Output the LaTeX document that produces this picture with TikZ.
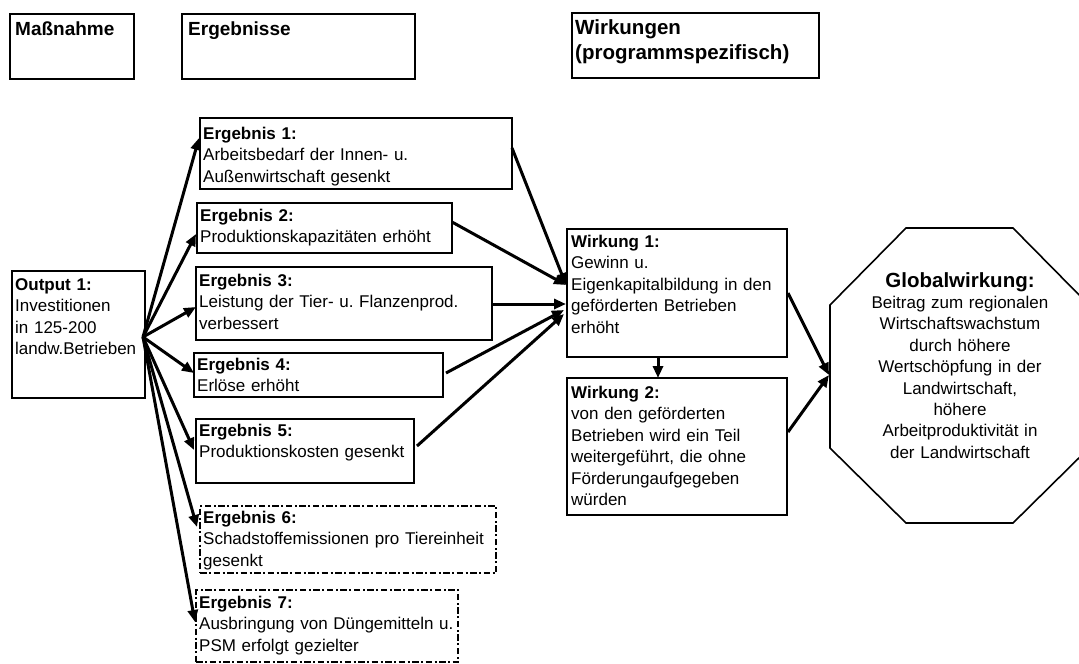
\documentclass[tikz,border=0pt]{standalone}
\usepackage{fontspec}
\setmainfont{Liberation Sans}
\usetikzlibrary{arrows.meta,calc}
\frenchspacing
\begin{document}
\begin{tikzpicture}[x=1pt,y=-1pt,
  frame/.style={draw, line width=1.6pt, anchor=north west, inner sep=0pt, outer sep=0pt},
  headframe/.style={frame, line width=2.4pt},
  planned/.style={frame, line width=2.2pt, dash pattern=on 6.5pt off 2.5pt on 2pt off 2.5pt},
  body/.style={anchor=base west, inner sep=0pt, align=left, font=\fontsize{17}{21.5}\selectfont},
  head/.style={body, font=\fontsize{19}{25}\selectfont\bfseries},
  flow/.style={line width=3pt, -{Triangle[length=12pt,width=10pt]}},
]
\useasboundingbox (0,0) rectangle (1079,664);

% column headings
\node[headframe, minimum width=124pt, minimum height=65pt] (hm) at (10,14) {};
\node[head, text width=118pt] (hmt) at ($(hm.north west)+(5,21)$) {Maßnahme};
\node[headframe, minimum width=233pt, minimum height=65pt] (he) at (182,14) {};
\node[head, text width=225pt] (het) at ($(he.north west)+(6,21)$) {Ergebnisse};
\node[headframe, minimum width=247pt, minimum height=65pt] (hw) at (572,13) {};
\node[head, font=\fontsize{20.5}{25}\selectfont\bfseries, text width=243pt] (hwt) at ($(hw.north west)+(3,21)$) {Wirkungen\\(programmspezifisch)};

% measure
\node[frame, minimum width=133pt, minimum height=127pt] (out) at (12,271) {};
\node[body, text width=129pt] (outt) at ($(out.north west)+(3,19)$) {\textbf{Output 1:}\\Investitionen\\in 125-200\\landw.Betrieben};
\coordinate (src) at (143,337);

% results
\node[frame, minimum width=312pt, minimum height=71pt] (e1) at (200,118) {};
\node[body, text width=306pt] (e1t) at ($(e1.north west)+(3,21)$) {\textbf{Ergebnis 1:}\\Arbeitsbedarf der Innen- u.\\Außenwirtschaft gesenkt};
\node[frame, minimum width=255pt, minimum height=50pt] (e2) at (197,203) {};
\node[body, text width=250pt] (e2t) at ($(e2.north west)+(3,18)$) {\textbf{Ergebnis 2:}\\Produktionskapazitäten erhöht};
\node[frame, minimum width=296pt, minimum height=73pt] (e3) at (196,267) {};
\node[body, text width=290pt] (e3t) at ($(e3.north west)+(3,19)$) {\textbf{Ergebnis 3:}\\Leistung der Tier- u. Flanzenprod.\\verbessert};
\node[frame, minimum width=249pt, minimum height=44pt] (e4) at (194,353) {};
\node[body, text width=244pt] (e4t) at ($(e4.north west)+(3,17)$) {\textbf{Ergebnis 4:}\\Erlöse erhöht};
\node[frame, minimum width=218pt, minimum height=64pt] (e5) at (196,419) {};
\node[body, text width=213pt] (e5t) at ($(e5.north west)+(3,17)$) {\textbf{Ergebnis 5:}\\Produktionskosten gesenkt};
\node[planned, minimum width=296pt, minimum height=67pt] (e6) at (200,506) {};
\node[body, text width=292pt] (e6t) at ($(e6.north west)+(3,17)$) {\textbf{Ergebnis 6:}\\Schadstoffemissionen pro Tiereinheit\\gesenkt};
\node[planned, minimum width=262pt, minimum height=72pt] (e7) at (196,590) {};
\node[body, text width=258pt] (e7t) at ($(e7.north west)+(3,18)$) {\textbf{Ergebnis 7:}\\Ausbringung von Düngemitteln u.\\PSM erfolgt gezielter};

% programme effects
\node[frame, minimum width=220pt, minimum height=128pt] (w1) at (567,229) {};
\node[body, text width=215pt] (w1t) at ($(w1.north west)+(4,18)$) {\textbf{Wirkung 1:}\\Gewinn u.\\Eigenkapitalbildung in den\\geförderten Betrieben\\erhöht};
\node[frame, minimum width=220pt, minimum height=137pt] (w2) at (567,378) {};
\node[body, text width=215pt] (w2t) at ($(w2.north west)+(4,20)$) {\textbf{Wirkung 2:}\\von den geförderten\\Betrieben wird ein Teil\\weitergeführt, die ohne\\Förderungaufgegeben\\würden};

% global effect
\draw[line width=1.6pt] (906,228) -- (1013,228) -- (1089,305) -- (1089,448) -- (1013,523)
  -- (906,523) -- (830,448) -- (830,305) -- cycle;
\node[anchor=base, inner sep=0pt, text width=250pt, align=center, font=\fontsize{17}{21.4}\selectfont] (gt) at (960,287)
  {{\fontsize{20.5}{21.4}\selectfont\bfseries Globalwirkung:}\\Beitrag zum regionalen\\Wirtschaftswachstum\\durch höhere\\Wertschöpfung in der\\Landwirtschaft,\\höhere\\Arbeitproduktivität in\\der Landwirtschaft};
\coordinate (gin) at (829,375);

% measure -> results
\draw[flow] (src) -- ($(e1.north west)+(-1,20)$);
\draw[flow] (src) -- ($(e2.north west)+(-1,31)$);
\draw[flow] (src) -- ($(e3.north west)+(0,40)$);
\draw[flow] (src) -- ($(e4.north west)+(0,20)$);
\draw[flow] (src) -- ($(e5.north west)+(-2,31)$);
\draw[flow] (src) -- ($(e6.north west)+(-3,21)$);
\draw[flow] (src) -- ($(e7.north west)+(-1,32)$);

% results -> effect 1
\draw[flow] ($(e1.north east)+(0,30)$) -- ($(w1.north west)+(-1,56)$);
\draw[flow] ($(e2.north east)+(0,19)$) -- ($(w1.north west)+(-1,56)$);
\draw[flow] ($(e3.north east)+(0,37)$) -- ($(w1.north west)+(-1,75)$);
\draw[flow] ($(e4.north east)+(3,20)$) -- ($(w1.north west)+(-3,81)$);
\draw[flow] ($(e5.north east)+(3,27)$) -- ($(w1.north west)+(-3,85)$);

% effects -> global effect
\draw[flow] ($(w1.south west)+(91,0)$) -- ($(w2.north west)+(91,0)$);
\draw[flow] ($(w1.north east)+(1,64)$) -- (gin);
\draw[flow] ($(w2.north east)+(1,54)$) -- (gin);
\end{tikzpicture}
\end{document}
